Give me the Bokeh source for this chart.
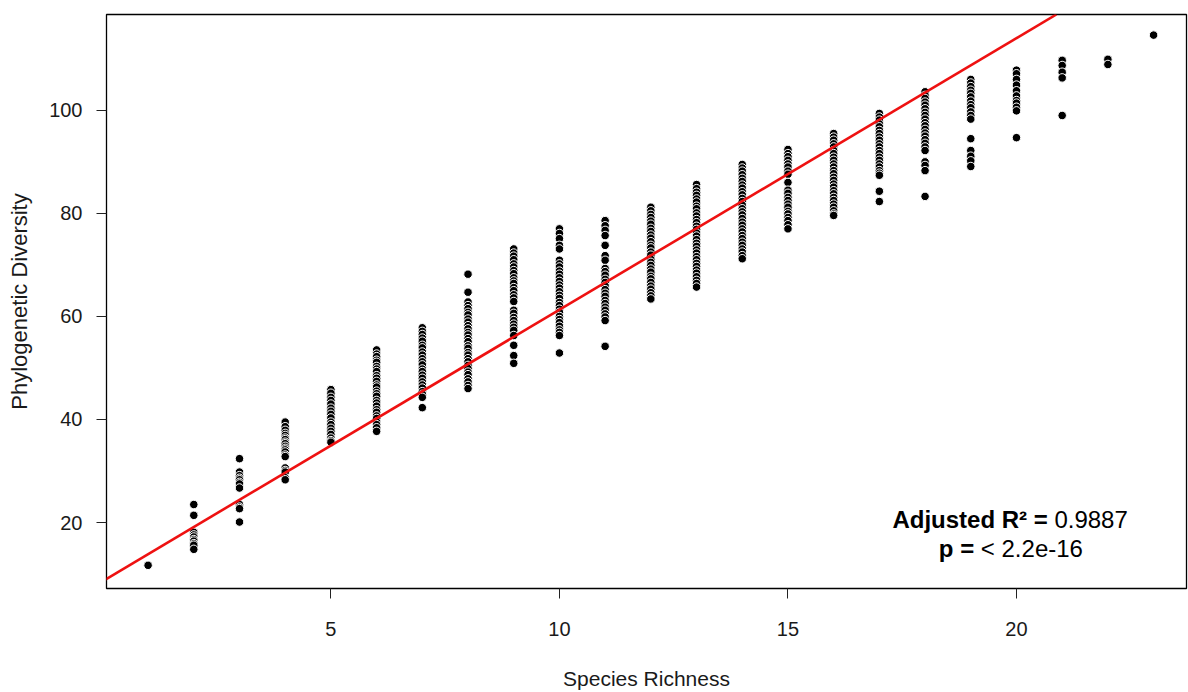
from bokeh.plotting import figure
from bokeh.models import Slope, Label, FixedTicker, ColumnDataSource
from bokeh.embed import file_html
from bokeh.resources import INLINE

# ---- data ----
richness = [1, 2, 3, 4, 5, 6, 7, 8, 9, 10, 11, 12, 13, 14, 15, 16, 17, 18, 19, 20, 21, 22, 23]
pd_values = [
    [11.7],
    [23.5, 21.4, 18.1, 17.6, 17.2, 16.7, 16.4, 15.9, 15.6, 14.8],
    [32.4, 29.8, 29.1, 28.6, 28.3, 27.8, 27.5, 26.7, 23.5, 23.0, 22.7, 20.1],
    [39.5, 38.6, 37.9, 37.3, 36.9, 36.4, 36.1, 35.6, 35.3, 34.8, 34.4, 34.1, 33.7, 33.1, 32.8, 30.6, 30.1, 29.8, 28.7, 28.3],
    [45.8, 45.1, 44.3, 43.7, 43.0, 42.2, 41.6, 41.0, 40.3, 39.5, 39.0, 38.3, 37.7, 37.1, 36.4, 35.9, 35.6],
    [53.5, 52.7, 52.2, 51.5, 51.1, 50.3, 49.8, 49.3, 48.5, 48.0, 47.4, 46.7, 46.3, 45.5, 45.0, 44.5, 43.7, 43.2, 42.6, 41.9, 41.4, 40.7, 40.2, 39.5, 39.0, 38.4, 37.7],
    [57.8, 57.1, 56.5, 55.8, 55.2, 54.4, 53.9, 53.1, 52.5, 51.8, 51.2, 50.6, 49.8, 49.3, 48.6, 48.0, 47.3, 46.7, 46.1, 45.4, 44.9, 44.3, 42.3],
    [68.2, 64.7, 62.8, 62.1, 61.5, 60.8, 60.3, 59.5, 58.9, 58.2, 57.6, 56.9, 56.4, 55.7, 55.1, 54.3, 53.8, 53.0, 52.5, 51.8, 51.2, 50.5, 49.9, 49.2, 48.7, 47.9, 47.3, 46.6, 46.0],
    [73.1, 72.3, 71.7, 71.0, 70.2, 69.6, 68.9, 68.3, 67.5, 66.9, 66.4, 65.6, 65.0, 64.2, 63.6, 62.9, 61.2, 60.6, 59.8, 59.2, 58.5, 57.9, 57.3, 56.3, 54.4, 52.4, 50.9],
    [77.0, 76.1, 75.1, 73.8, 73.1, 70.9, 70.2, 69.6, 68.8, 68.2, 67.5, 66.8, 66.1, 65.5, 64.8, 64.1, 63.5, 62.7, 62.1, 61.4, 60.8, 60.0, 59.4, 58.8, 58.1, 57.4, 56.9, 56.3, 52.9],
    [78.6, 77.6, 76.7, 75.7, 73.8, 71.8, 70.9, 69.3, 68.7, 68.0, 67.2, 66.6, 65.9, 65.2, 64.5, 63.9, 63.1, 62.5, 61.8, 61.2, 60.5, 59.9, 59.2, 54.2],
    [81.2, 80.5, 79.8, 79.2, 78.5, 77.9, 77.1, 76.5, 75.8, 75.2, 74.5, 73.8, 73.3, 72.5, 71.9, 71.1, 70.5, 69.9, 69.2, 68.6, 67.8, 67.3, 66.6, 65.9, 65.3, 64.6, 64.0, 63.4],
    [85.6, 84.8, 84.1, 83.5, 82.8, 82.2, 81.4, 80.9, 80.1, 79.5, 78.8, 78.2, 77.5, 76.9, 76.2, 75.6, 74.9, 74.2, 73.6, 72.9, 72.3, 71.6, 71.0, 70.3, 69.7, 69.0, 68.4, 67.7, 67.0, 66.4, 65.7],
    [89.5, 88.8, 88.2, 87.5, 86.8, 86.2, 85.5, 84.9, 84.2, 83.6, 82.9, 82.3, 81.6, 80.9, 80.3, 79.7, 79.0, 78.3, 77.7, 77.0, 76.4, 75.7, 75.1, 74.4, 73.8, 73.1, 72.5, 71.8, 71.2],
    [92.4, 91.6, 91.0, 90.3, 89.6, 89.0, 88.2, 87.6, 86.0, 84.5, 83.9, 83.1, 82.5, 81.8, 81.2, 80.4, 79.9, 79.2, 78.6, 77.8, 77.0],
    [95.5, 94.8, 94.2, 93.5, 92.9, 92.2, 91.6, 90.9, 90.3, 89.6, 89.0, 88.3, 87.7, 87.0, 86.4, 85.7, 85.1, 84.4, 83.8, 83.1, 82.5, 81.8, 81.2, 80.5, 79.9, 79.6],
    [99.4, 98.7, 98.1, 97.4, 96.8, 96.1, 95.5, 94.8, 94.2, 93.5, 92.9, 92.2, 91.6, 90.9, 90.3, 89.6, 89.0, 88.3, 87.8, 87.4, 84.3, 82.3],
    [103.6, 102.9, 102.3, 101.6, 101.0, 100.3, 99.6, 99.0, 98.3, 97.6, 97.0, 96.3, 95.6, 95.0, 94.3, 93.6, 92.9, 92.2, 90.0, 89.3, 88.3, 83.3],
    [106.0, 105.3, 104.6, 103.9, 103.3, 102.6, 101.8, 101.1, 100.5, 99.7, 99.0, 98.3, 94.5, 92.2, 91.1, 90.2, 89.1],
    [107.8, 107.1, 106.0, 104.9, 103.8, 102.8, 101.9, 101.4, 100.6, 99.9, 94.7],
    [109.7, 108.7, 107.4, 106.3, 99.0],
    [109.9, 108.9],
    [114.6],
]
fit_intercept = 8.6
fit_slope = 5.27
adj_r2_text = "0.9887"
p_text = "< 2.2e-16"

xs, ys = [], []
for r, vals in zip(richness, pd_values):
    for v in vals:
        xs.append(r)
        ys.append(v)
src = ColumnDataSource(dict(x=xs, y=ys))

FONT = "Liberation Sans"

p = figure(width=1188, height=692, output_backend="svg", toolbar_location=None,
           x_range=(0.09, 23.72), y_range=(7.2, 118.6),
           min_border_left=106, min_border_right=2, min_border_top=14, min_border_bottom=104)
p.background_fill_color = "white"
p.border_fill_color = "white"
p.outline_line_color = "black"
p.outline_line_width = 1.3
p.xgrid.visible = False
p.ygrid.visible = False

p.scatter("x", "y", source=src, size=8.5, fill_color="black", line_color="white", line_width=1)

p.add_layout(Slope(gradient=fit_slope, y_intercept=fit_intercept, line_color="#ee1111", line_width=2.6))

for ax in (p.xaxis[0], p.yaxis[0]):
    ax.axis_line_color = None
    ax.major_tick_line_color = "#222222"
    ax.major_tick_in = 0
    ax.major_tick_out = 10
    ax.minor_tick_line_color = None
    ax.major_label_text_font = FONT
    ax.major_label_text_font_size = "20px"
    ax.major_label_text_color = "#1a1a1a"
    ax.axis_label_text_font = FONT
    ax.axis_label_text_font_style = "normal"
    ax.axis_label_text_color = "#1a1a1a"

p.xaxis.axis_label_text_font_size = "21px"
p.yaxis.axis_label_text_font_size = "22px"
p.xaxis.ticker = FixedTicker(ticks=[5, 10, 15, 20])
p.yaxis.ticker = FixedTicker(ticks=[20, 40, 60, 80, 100])
p.xaxis.axis_label = "Species Richness"
p.yaxis.axis_label = "Phylogenetic Diversity"
p.xaxis.major_label_standoff = 23
p.xaxis.axis_label_standoff = 28
p.yaxis.major_label_standoff = 14
p.yaxis.axis_label_standoff = 14

# annotation
ann_font = "24px"
p.add_layout(Label(x=20.83, y=20.6, text="Adjusted R\u00b2 = ", text_font=FONT, text_font_size=ann_font,
                   text_font_style="bold", text_align="right", text_baseline="alphabetic", text_color="black"))
p.add_layout(Label(x=20.83, y=20.6, text=adj_r2_text, text_font=FONT, text_font_size=ann_font,
                   text_align="left", text_baseline="alphabetic", text_color="black"))
p.add_layout(Label(x=19.22, y=15.0, text="p = ", text_font=FONT, text_font_size=ann_font,
                   text_font_style="bold", text_align="right", text_baseline="alphabetic", text_color="black"))
p.add_layout(Label(x=19.22, y=15.0, text=p_text, text_font=FONT, text_font_size=ann_font,
                   text_align="left", text_baseline="alphabetic", text_color="black"))

open("out.html", "w").write(file_html(p, INLINE))
